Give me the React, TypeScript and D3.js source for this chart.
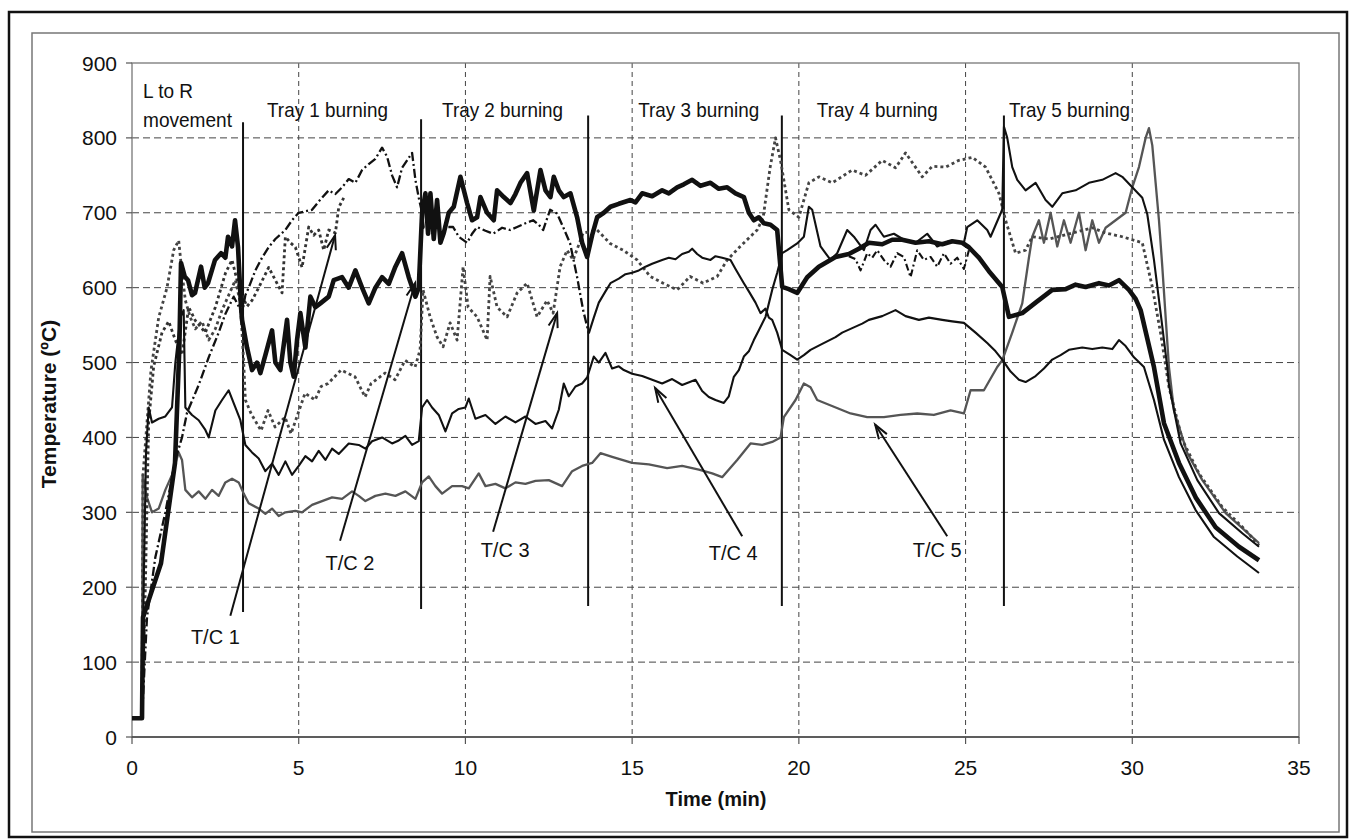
import React from "react";
import { scaleLinear, line } from "d3";

const width = 1353;
const height = 839;
const plot = { left: 132, right: 1299, top: 63, bottom: 737 };

const xTicks = [0, 5, 10, 15, 20, 25, 30, 35];
const yTicks = [0, 100, 200, 300, 400, 500, 600, 700, 800, 900];

// tray boundaries (min) and the temperature span of each marker line
const dividerTimes = [3.33, 8.67, 13.68, 19.49, 26.15];
const dividerTop = [821, 825, 830, 830, 830];
const dividerBottom = [167, 171, 175, 175, 175];

const trayLabels = ["Tray 1 burning", "Tray 2 burning", "Tray 3 burning", "Tray 4 burning", "Tray 5 burning"];
const trayLabelStart = [4.05, 9.3, 15.18, 20.54, 26.3];

type Pt = [number, number];

// T/C 2 (heavy line)
const tc2: Pt[] = [
  [0, 25], [0.3, 25], [0.33, 160], [0.87, 232], [1.29, 366], [1.42, 520], [1.47, 633], [1.58, 615], [1.68, 610],
  [1.8, 590], [1.89, 593], [2.07, 628], [2.18, 600], [2.28, 606], [2.49, 637], [2.67, 646], [2.8, 640], [2.88, 668],
  [3.0, 655], [3.09, 690], [3.18, 654], [3.27, 574], [3.3, 557], [3.45, 520], [3.6, 490], [3.75, 500], [3.85, 486],
  [4.0, 510], [4.2, 543], [4.3, 500], [4.45, 490], [4.65, 557], [4.75, 500], [4.85, 481], [4.95, 530], [5.05, 566],
  [5.2, 520], [5.35, 588], [5.5, 574], [5.65, 579], [5.9, 588], [6.05, 610], [6.3, 614], [6.5, 600], [6.7, 623],
  [6.9, 600], [7.1, 579], [7.3, 600], [7.5, 614], [7.7, 605], [7.9, 628], [8.1, 646], [8.3, 614], [8.5, 588],
  [8.6, 600], [8.7, 700], [8.8, 726], [8.88, 672], [8.95, 726], [9.05, 665], [9.15, 717], [9.25, 660], [9.35, 673],
  [9.5, 700], [9.65, 708], [9.85, 748], [10.05, 713], [10.2, 690], [10.35, 694], [10.45, 721], [10.65, 700],
  [10.85, 690], [10.95, 730], [11.15, 721], [11.35, 713], [11.5, 725], [11.65, 740], [11.85, 753], [12.05, 703],
  [12.25, 757], [12.4, 730], [12.55, 721], [12.65, 748], [12.8, 730], [12.95, 721], [13.15, 726], [13.35, 694],
  [13.5, 660], [13.65, 641], [13.8, 670], [13.95, 694], [14.15, 700], [14.35, 708], [14.6, 712], [14.95, 717],
  [15.1, 714], [15.3, 726], [15.6, 722], [15.9, 730], [16.1, 726], [16.35, 734], [16.55, 738], [16.8, 744],
  [17.05, 736], [17.35, 740], [17.6, 732], [17.85, 734], [18.1, 726], [18.35, 721], [18.5, 700], [18.65, 690],
  [18.8, 694], [18.95, 686], [19.15, 684], [19.35, 677], [19.5, 601], [19.7, 598], [19.95, 593], [20.25, 614],
  [20.6, 628], [21.1, 641], [21.5, 645], [21.8, 652], [22.1, 660], [22.5, 658], [22.8, 664], [23.1, 664],
  [23.5, 660], [23.9, 662], [24.3, 658], [24.6, 662], [24.9, 660], [25.1, 654], [25.4, 640], [25.7, 622],
  [26.1, 601], [26.3, 561], [26.7, 566], [27.1, 580], [27.6, 597], [28.0, 598], [28.3, 604], [28.6, 601],
  [29.0, 606], [29.3, 603], [29.6, 610], [29.9, 597], [30.1, 585], [30.25, 570], [30.65, 494], [30.95, 419],
  [31.4, 366], [31.9, 320], [32.5, 280], [33.2, 254], [33.8, 236],
];

// T/C 1 (dash-dot)
const tc1: Pt[] = [
  [0, 25], [0.3, 25], [0.45, 160], [0.7, 240], [1.0, 300], [1.3, 370], [1.5, 400], [1.65, 433], [2.0, 470],
  [2.3, 507], [2.6, 540], [2.8, 565], [3.05, 588], [3.2, 575], [3.3, 565], [3.4, 590], [3.5, 600], [3.7, 623],
  [3.9, 640], [4.1, 654], [4.3, 665], [4.6, 677], [4.8, 690], [5.0, 700], [5.4, 704], [5.6, 715], [5.9, 730],
  [6.1, 725], [6.3, 734], [6.5, 745], [6.7, 740], [6.9, 757], [7.1, 765], [7.3, 772], [7.5, 787], [7.65, 775],
  [7.8, 750], [7.95, 734], [8.1, 760], [8.25, 770], [8.4, 780], [8.5, 744], [8.6, 720], [8.7, 700], [8.75, 680],
  [9.0, 684], [9.33, 681], [9.63, 681], [9.8, 668], [10.05, 660], [10.2, 672], [10.35, 681], [10.6, 676],
  [10.83, 672], [11.1, 680], [11.34, 677], [11.55, 681], [11.8, 686], [12.03, 690], [12.2, 684], [12.33, 677],
  [12.54, 704], [12.75, 699], [12.93, 681], [13.14, 659], [13.35, 614], [13.53, 570], [13.7, 539],
];

// lower solid line, continuing T/C 1 after tray 2
const tc1Late: Pt[] = [
  [13.7, 539], [13.85, 560], [14.0, 580], [14.2, 595], [14.35, 606], [14.6, 612], [14.8, 618], [15.0, 620],
  [15.2, 623], [15.4, 628], [15.6, 632], [15.9, 637], [16.1, 640], [16.3, 638], [16.5, 645], [16.7, 648],
  [16.8, 652], [16.95, 645], [17.1, 640], [17.35, 637], [17.5, 642], [17.7, 640], [17.95, 637], [18.1, 625],
  [18.35, 606], [18.5, 595], [18.7, 580], [18.85, 566], [19.0, 572], [19.1, 560], [19.2, 557], [19.35, 540],
  [19.5, 517], [19.75, 510], [19.95, 504], [20.15, 510], [20.35, 517], [20.7, 525], [21.1, 534], [21.3, 540],
  [21.6, 546], [21.9, 552], [22.1, 557], [22.5, 562], [22.9, 570], [23.2, 562], [23.6, 557], [23.9, 560],
  [24.3, 557], [24.6, 555], [24.95, 553], [25.3, 540], [25.65, 526], [25.9, 515], [26.1, 504], [26.35, 488],
  [26.6, 477], [26.8, 474], [27.1, 482], [27.35, 492], [27.6, 504], [27.85, 510], [28.1, 517], [28.5, 520],
  [28.8, 518], [29.1, 520], [29.4, 518], [29.6, 530], [29.8, 522], [30.05, 507], [30.35, 494], [30.65, 450],
  [30.95, 397], [31.4, 347], [31.9, 303], [32.45, 267], [33.15, 241], [33.8, 219],
];

// T/C 3 (grey dotted)
const tc3: Pt[] = [
  [0, 25], [0.3, 25], [0.33, 350], [0.57, 490], [0.8, 560], [1.05, 600], [1.25, 650], [1.4, 663], [1.5, 620],
  [1.6, 583], [1.75, 560], [1.9, 545], [2.1, 555], [2.3, 530], [2.5, 545], [2.7, 570], [2.9, 590], [3.1, 610],
  [3.25, 580], [3.35, 500], [3.4, 450], [3.57, 432], [3.87, 409], [4.08, 436], [4.29, 414], [4.59, 427],
  [4.77, 405], [4.98, 432], [5.19, 459], [5.49, 450], [5.67, 468], [5.88, 472], [6.27, 490], [6.69, 481],
  [6.99, 454], [7.17, 472], [7.59, 486], [7.89, 477], [8.19, 503], [8.49, 494], [8.64, 517], [8.73, 597],
  [8.94, 561], [9.15, 534], [9.33, 521], [9.54, 553], [9.75, 530], [9.93, 628], [10.08, 574], [10.35, 561],
  [10.65, 530], [10.74, 615], [10.95, 574], [11.25, 561], [11.55, 593], [11.85, 606], [12.15, 561],
  [12.45, 583], [12.63, 566], [12.84, 628], [13.05, 650], [13.23, 637], [13.53, 673], [13.95, 677],
  [14.34, 659], [14.73, 650], [15.15, 637], [15.54, 615], [15.93, 606], [16.35, 597], [16.74, 615],
  [17.13, 606], [17.55, 615], [17.85, 637], [18.24, 655], [18.75, 677], [18.93, 694], [19.14, 761],
  [19.3, 800], [19.45, 770], [19.7, 704], [20.0, 694], [20.3, 740], [20.6, 748], [21.0, 740], [21.6, 757],
  [22.0, 750], [22.5, 770], [22.9, 760], [23.2, 780], [23.7, 748], [24.0, 762], [24.4, 761], [24.8, 770],
  [25.2, 774], [25.6, 761], [26.0, 726], [26.2, 690], [26.5, 646], [26.8, 650], [27.0, 668], [27.5, 665],
  [28.2, 673], [28.8, 680], [29.2, 673], [29.7, 668], [30.3, 660], [30.6, 601], [30.85, 539], [31.1, 467],
  [31.5, 397], [32.0, 352], [32.7, 307], [33.4, 276], [33.8, 256],
];

// second dotted trace near the start
const tc3b: Pt[] = [
  [0.3, 25], [0.4, 200], [0.5, 420], [0.65, 495], [0.9, 540], [1.1, 555], [1.3, 530], [1.5, 510], [1.7, 574],
  [1.9, 556], [2.2, 540], [2.5, 574], [2.8, 619], [3.0, 637], [3.15, 610], [3.3, 590], [3.45, 575], [3.6, 583],
  [3.8, 600], [4.1, 627], [4.3, 610], [4.5, 593], [4.6, 668], [4.75, 660], [4.9, 654], [5.1, 627], [5.3, 681],
  [5.45, 670], [5.6, 677], [5.75, 650], [5.9, 677], [6.1, 673], [6.2, 707], [6.35, 720],
];

// T/C 4 (thin solid)
const tc4: Pt[] = [
  [0, 25], [0.3, 25], [0.35, 200], [0.42, 380], [0.5, 440], [0.6, 420], [0.8, 425], [1.0, 428], [1.2, 440],
  [1.3, 500], [1.45, 560], [1.55, 570], [1.6, 440], [1.8, 430], [2.0, 423], [2.2, 410], [2.3, 400], [2.5, 436],
  [2.7, 450], [2.9, 463], [3.1, 440], [3.25, 423], [3.4, 390], [3.6, 380], [3.8, 372], [4.0, 355], [4.2, 365],
  [4.4, 350], [4.6, 368], [4.8, 350], [5.0, 362], [5.2, 375], [5.4, 368], [5.6, 382], [5.8, 370], [6.0, 385],
  [6.2, 378], [6.5, 392], [6.8, 390], [7.0, 385], [7.2, 395], [7.5, 400], [7.8, 392], [8.0, 396], [8.2, 402],
  [8.4, 390], [8.6, 395], [8.7, 440], [8.85, 450], [9.0, 440], [9.2, 430], [9.4, 408], [9.6, 432], [9.8, 438],
  [10.0, 440], [10.1, 452], [10.3, 425], [10.6, 430], [10.9, 418], [11.2, 428], [11.5, 420], [11.8, 428],
  [12.1, 418], [12.4, 422], [12.6, 412], [12.8, 437], [12.95, 472], [13.1, 455], [13.3, 468], [13.5, 472],
  [13.65, 480], [13.85, 508], [14.0, 500], [14.2, 513], [14.4, 492], [14.6, 495], [14.75, 490], [15.0, 485],
  [15.3, 482], [15.6, 477], [15.9, 472], [16.2, 478], [16.5, 470], [16.9, 477], [17.1, 462], [17.3, 454],
  [17.5, 450], [17.75, 446], [17.9, 455], [18.05, 481], [18.2, 490], [18.35, 508], [18.5, 515], [18.65, 530],
  [18.8, 543], [19.0, 561], [19.2, 597], [19.35, 620], [19.5, 646], [19.65, 650], [19.95, 659], [20.15, 668],
  [20.3, 708], [20.4, 704], [20.65, 655], [20.95, 637], [21.15, 646], [21.45, 677], [21.65, 668], [21.95, 650],
  [22.15, 677], [22.3, 684], [22.55, 668], [22.85, 672], [23.15, 664], [23.5, 660], [23.85, 672], [24.15, 655],
  [24.5, 662], [24.95, 660], [25.05, 681], [25.35, 690], [25.65, 677], [25.75, 668], [26.05, 699], [26.1, 705],
  [26.15, 815], [26.25, 800], [26.4, 761], [26.55, 744], [26.8, 730], [27.1, 740], [27.4, 717], [27.6, 708],
  [27.9, 726], [28.3, 730], [28.7, 740], [29.1, 744], [29.5, 753], [29.7, 748], [30.0, 734], [30.3, 720],
  [30.45, 698], [30.65, 637], [30.85, 566], [31.05, 494], [31.1, 470], [31.45, 392], [31.95, 343], [32.6, 299],
  [33.3, 272], [33.8, 254],
];

// dash-dot trace under the heavy line during tray 4
const tc4b: Pt[] = [
  [21.5, 642], [21.7, 638], [21.85, 623], [22.05, 646], [22.2, 640], [22.35, 650], [22.55, 637], [22.75, 628],
  [22.95, 646], [23.15, 641], [23.35, 614], [23.55, 650], [23.75, 637], [23.95, 641], [24.15, 628], [24.35, 646],
  [24.55, 632], [24.75, 640], [24.95, 625], [25.1, 650],
];

// T/C 5 (grey solid)
const tc5: Pt[] = [
  [0, 25], [0.3, 25], [0.32, 350], [0.45, 320], [0.6, 300], [0.8, 305], [1.0, 330], [1.2, 350], [1.4, 380],
  [1.5, 370], [1.6, 330], [1.8, 320], [2.0, 328], [2.2, 318], [2.4, 330], [2.6, 322], [2.8, 340], [3.0, 345],
  [3.2, 340], [3.35, 325], [3.5, 312], [3.8, 305], [4.0, 298], [4.2, 305], [4.4, 295], [4.6, 300], [4.9, 302],
  [5.1, 300], [5.4, 310], [5.7, 315], [6.0, 320], [6.3, 318], [6.6, 328], [6.8, 322], [7.0, 315], [7.3, 322],
  [7.6, 325], [7.9, 322], [8.2, 328], [8.5, 318], [8.7, 340], [8.9, 348], [9.1, 335], [9.3, 325], [9.6, 335],
  [9.9, 335], [10.1, 332], [10.4, 352], [10.6, 335], [10.9, 338], [11.2, 332], [11.5, 340], [11.8, 338],
  [12.1, 342], [12.5, 343], [12.9, 335], [13.2, 355], [13.5, 362], [13.8, 366], [14.05, 379], [14.4, 374],
  [15.0, 366], [15.5, 364], [16.05, 359], [16.5, 362], [17.0, 357], [17.4, 352], [17.7, 347], [18.15, 370],
  [18.55, 392], [18.9, 390], [19.2, 394], [19.45, 400], [19.55, 427], [19.9, 450], [20.15, 472], [20.35, 467],
  [20.55, 450], [21.05, 441], [21.55, 432], [22.05, 427], [22.55, 427], [23.05, 430], [23.55, 432], [24.05, 430],
  [24.55, 436], [24.95, 432], [25.15, 463], [25.55, 463], [25.95, 494], [26.1, 503], [26.4, 540], [26.7, 579],
  [26.9, 640], [27.0, 668], [27.2, 690], [27.35, 660], [27.55, 700], [27.75, 655], [27.95, 690], [28.15, 660],
  [28.4, 700], [28.6, 650], [28.8, 690], [29.0, 660], [29.2, 680], [29.5, 690], [29.8, 700], [30.0, 734],
  [30.2, 761], [30.4, 800], [30.5, 813], [30.6, 790], [30.7, 740], [30.8, 690], [30.9, 628], [31.1, 494],
  [31.25, 436], [31.65, 379], [32.1, 343], [32.8, 299], [33.8, 259],
];

const series = [
  { id: "tc5", data: tc5, stroke: "#555", width: 2.3, dash: "" },
  { id: "tc3", data: tc3, stroke: "#444", width: 2.8, dash: "3,3" },
  { id: "tc3b", data: tc3b, stroke: "#333", width: 2.8, dash: "3,3" },
  { id: "tc1Late", data: tc1Late, stroke: "#111", width: 2.1, dash: "" },
  { id: "tc4", data: tc4, stroke: "#111", width: 2.1, dash: "" },
  { id: "tc4b", data: tc4b, stroke: "#111", width: 2.1, dash: "7,3,2,3" },
  { id: "tc1", data: tc1, stroke: "#111", width: 2.3, dash: "9,3,2,3" },
  { id: "tc2", data: tc2, stroke: "#111", width: 4.6, dash: "" },
];

const annotations = [
  { label: "T/C 1", lx: 2.5, lv: 133, sx: 2.95, sv: 162, ex: 6.09, ev: 670 },
  { label: "T/C 2", lx: 6.54, lv: 232, sx: 6.24, sv: 262, ex: 8.49, ev: 606 },
  { label: "T/C 3", lx: 11.19, lv: 250, sx: 10.83, sv: 274, ex: 12.75, ev: 566 },
  { label: "T/C 4", lx: 18.03, lv: 246, sx: 18.3, sv: 268, ex: 15.69, ev: 466 },
  { label: "T/C 5", lx: 24.15, lv: 250, sx: 24.45, sv: 268, ex: 22.29, ev: 417 },
];

const font = "'Liberation Sans', Arial, sans-serif";

export default function App() {
  const x = scaleLinear().domain([0, 35]).range([plot.left, plot.right]);
  const y = scaleLinear().domain([0, 900]).range([plot.bottom, plot.top]);
  const path = line<Pt>()
    .x((d) => x(d[0]))
    .y((d) => y(d[1]));

  return (
    <svg
      width={width}
      height={height}
      style={{ position: "absolute", left: 0, top: 0, background: "#fff" }}
      fontFamily={font}
    >
      <rect x={0} y={0} width={width} height={height} fill="#fff" />
      <rect x={9} y={12} width={1338} height={825} fill="none" stroke="#111" strokeWidth={2.5} />
      <rect x={32} y={33} width={1307} height={799} fill="none" stroke="#777" strokeWidth={1.5} />

      {/* grid */}
      {yTicks.slice(1, -1).map((v) => (
        <line key={"gy" + v} x1={plot.left} x2={plot.right} y1={y(v)} y2={y(v)} stroke="#444" strokeWidth={1} strokeDasharray="7,4" />
      ))}
      {xTicks.slice(1, -1).map((t) => (
        <line key={"gx" + t} x1={x(t)} x2={x(t)} y1={plot.top} y2={plot.bottom} stroke="#444" strokeWidth={1} strokeDasharray="5,4" />
      ))}
      <rect x={plot.left} y={plot.top} width={plot.right - plot.left} height={plot.bottom - plot.top} fill="none" stroke="#777" strokeWidth={1.3} />
      <line x1={plot.left} x2={plot.right} y1={plot.bottom} y2={plot.bottom} stroke="#444" strokeWidth={1.5} />

      {/* ticks */}
      {yTicks.map((v) => (
        <g key={"ty" + v}>
          <line x1={plot.left - 6} x2={plot.left} y1={y(v)} y2={y(v)} stroke="#555" strokeWidth={1.2} />
          <text x={117} y={y(v)} dy="0.36em" textAnchor="end" fontSize={21} fill="#111">
            {v}
          </text>
        </g>
      ))}
      {xTicks.map((t) => (
        <g key={"tx" + t}>
          <line x1={x(t)} x2={x(t)} y1={plot.bottom} y2={plot.bottom + 7} stroke="#555" strokeWidth={1.2} />
          <text x={x(t)} y={775} textAnchor="middle" fontSize={21} fill="#111">
            {t}
          </text>
        </g>
      ))}

      <text x={716} y={806} textAnchor="middle" fontSize={20} fontWeight="bold" fill="#111">
        Time (min)
      </text>
      <text transform={`translate(56,404) rotate(-90)`} textAnchor="middle" fontSize={21} fontWeight="bold" fill="#111">
        Temperature (ºC)
      </text>

      {/* tray markers */}
      {dividerTimes.map((t, i) => (
        <line key={"d" + i} x1={x(t)} x2={x(t)} y1={y(dividerTop[i])} y2={y(dividerBottom[i])} stroke="#111" strokeWidth={2} />
      ))}
      <text x={143} y={98} fontSize={21} fill="#111" textLength={50} lengthAdjust="spacingAndGlyphs">
        L to R
      </text>
      <text x={143} y={127} fontSize={21} fill="#111" textLength={89} lengthAdjust="spacingAndGlyphs">
        movement
      </text>
      {trayLabels.map((s, i) => (
        <text key={s} x={x(trayLabelStart[i])} y={117} fontSize={21} fill="#111" textLength={121} lengthAdjust="spacingAndGlyphs">
          {s}
        </text>
      ))}

      {/* series */}
      {series.map((s) => (
        <path
          key={s.id}
          d={path(s.data) || ""}
          fill="none"
          stroke={s.stroke}
          strokeWidth={s.width}
          strokeDasharray={s.dash || undefined}
          strokeLinejoin="round"
        />
      ))}

      {/* annotations */}
      {annotations.map((a) => {
        const x1 = x(a.sx);
        const y1 = y(a.sv);
        const x2 = x(a.ex);
        const y2 = y(a.ev);
        const ang = Math.atan2(y2 - y1, x2 - x1);
        const len = 15;
        const spread = 0.32;
        const h1 = [x2 - len * Math.cos(ang - spread), y2 - len * Math.sin(ang - spread)];
        const h2 = [x2 - len * Math.cos(ang + spread), y2 - len * Math.sin(ang + spread)];
        return (
          <g key={a.label}>
            <line x1={x1} y1={y1} x2={x2} y2={y2} stroke="#111" strokeWidth={2} />
            <polyline points={`${h1[0]},${h1[1]} ${x2},${y2} ${h2[0]},${h2[1]}`} fill="none" stroke="#111" strokeWidth={2} />
            <text x={x(a.lx)} y={y(a.lv) + 7} textAnchor="middle" fontSize={20} fill="#111">
              {a.label}
            </text>
          </g>
        );
      })}
    </svg>
  );
}
